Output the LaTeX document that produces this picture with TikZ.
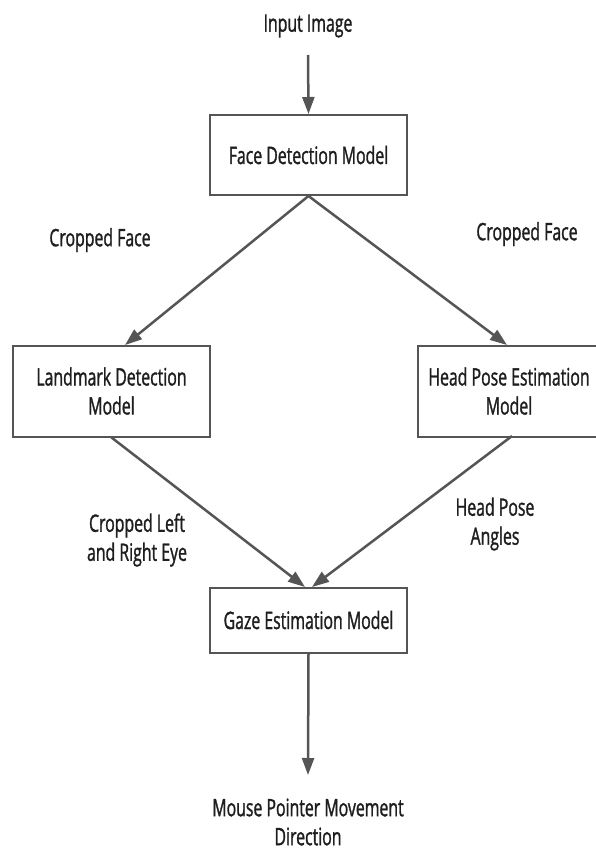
\documentclass[tikz,border=0pt]{standalone}
\usepackage{fontspec}
\setmainfont[FakeStretch=0.66,FakeBold=1.2]{Open Sans}
\usetikzlibrary{arrows.meta}
\definecolor{linegray}{HTML}{555555}
\definecolor{txt}{HTML}{1E1E1E}
\tikzset{
  box/.style={draw=linegray, line width=2pt, fill=white, inner sep=0pt, text=txt, align=center, font=\fontsize{24}{29}\selectfont},
  lbl/.style={text=txt, align=center, inner sep=0pt, font=\fontsize{24}{29}\selectfont},
  conn/.style={draw=linegray, line width=2.5pt, -{Triangle[length=17pt,width=12pt]}},
}
\begin{document}
\begin{tikzpicture}[x=1pt,y=-1pt]
\useasboundingbox (0,0) rectangle (595,853);
\fill[white] (0,0) rectangle (595,853);
% labels
\node[lbl] (inp) at (308,26) {Input Image};
\node[box, minimum width=197pt, minimum height=80pt] (face) at (308.5,155) {Face Detection Model};
\node[box, minimum width=197pt, minimum height=91pt] (land) at (111.5,391) {Landmark Detection\\Model};
\node[box, minimum width=182pt, minimum height=91pt] (head) at (509,391) {Head Pose Estimation\\Model};
\node[box, minimum width=197pt, minimum height=65pt] (gaze) at (308.5,620) {Gaze Estimation Model};
\node[lbl] (cf1) at (100,240) {Cropped Face};
\node[lbl] (cf2) at (527,234) {Cropped Face};
\node[lbl] (eye) at (137,540) {Cropped Left\\and Right Eye};
\node[lbl] (ang) at (495,524) {Head Pose\\Angles};
\node[lbl] (out) at (308,822) {Mouse Pointer Movement\\Direction};
% connector endpoints
\coordinate (inS) at (308,55);
\coordinate (landT) at (125,345);
\coordinate (headT) at (507,345);
\coordinate (headB) at (512,436);
\coordinate (gazeL) at (305,587);
\coordinate (gazeR) at (312,587);
\coordinate (outT) at (308,775);
% connectors
\draw[conn] (inS) -- (face.north);
\draw[conn] (face.south) -- (landT);
\draw[conn] (face.south) -- (headT);
\draw[conn] (land.south) -- (gazeL);
\draw[conn] (headB) -- (gazeR);
\draw[conn] (gaze.south) -- (outT);
\end{tikzpicture}
\end{document}
